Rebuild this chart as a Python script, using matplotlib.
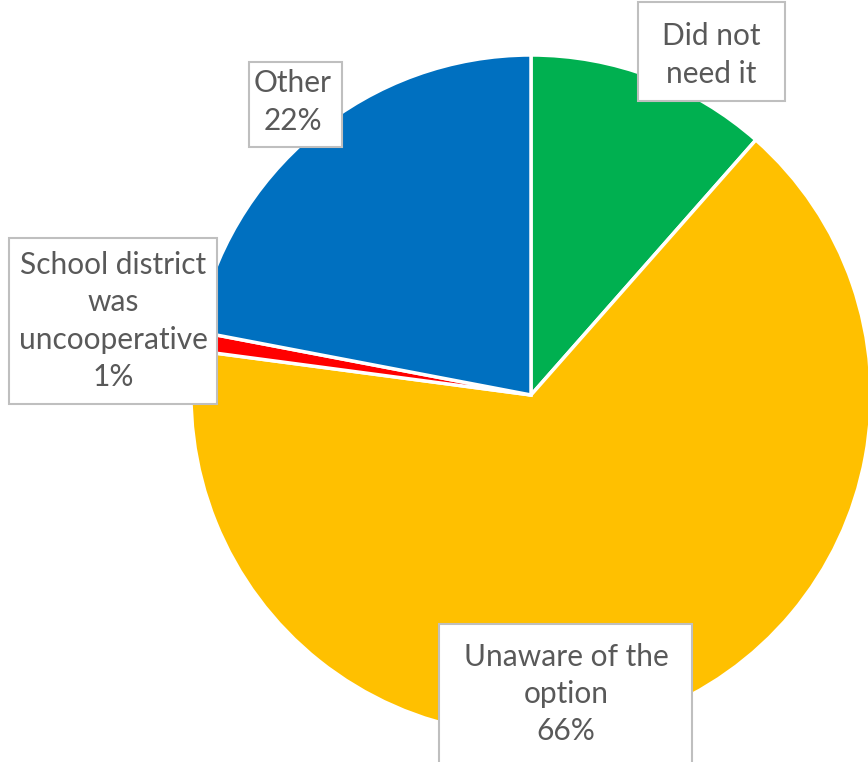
import matplotlib.pyplot as plt
from matplotlib.patches import Rectangle

labels = ["Did not\nneed it", "Unaware of the\noption", "School district\nwas\nuncooperative", "Other"]
shares = [11.5, 65.6, 0.9, 22.0]
show_pct = [False, True, True, True]
colors = ["#00B050", "#FFC000", "#FF0000", "#0070C0"]

# label text centres and box extents in pixel coords (y from top)
label_pos = [(711, 55), (566, 694), (113, 321), (293, 102)]
label_box = [(638, 2, 785, 101), (439, 624, 692, 775), (9, 238, 217, 404), (249, 62, 342, 147)]

W, H = 868, 762
fig = plt.figure(figsize=(W / 100, H / 100), dpi=100)
ax = fig.add_axes([0, 0, 1, 1])

ax.pie(shares, colors=colors, startangle=90, counterclock=False,
       center=(531, H - 395), radius=340,
       wedgeprops=dict(edgecolor="white", linewidth=2.5))

# pie() resets limits, so set them afterwards
ax.set_xlim(0, W)
ax.set_ylim(0, H)
ax.set_aspect("equal")
ax.axis("off")

for lab, val, pct, (x, y), (x0, y0, x1, y1) in zip(labels, shares, show_pct, label_pos, label_box):
    ax.add_patch(Rectangle((x0, H - y1), x1 - x0, y1 - y0, facecolor="white",
                           edgecolor="#BFBFBF", linewidth=1.5, zorder=3))
    txt = lab + ("\n%d%%" % round(val) if pct else "")
    ax.text(x, H - y, txt, ha="center", va="center", fontsize=21.5,
            family=["Lato", "DejaVu Sans"], color="#595959", linespacing=1.4,
            zorder=4)

fig.savefig("out.png", dpi=100)
